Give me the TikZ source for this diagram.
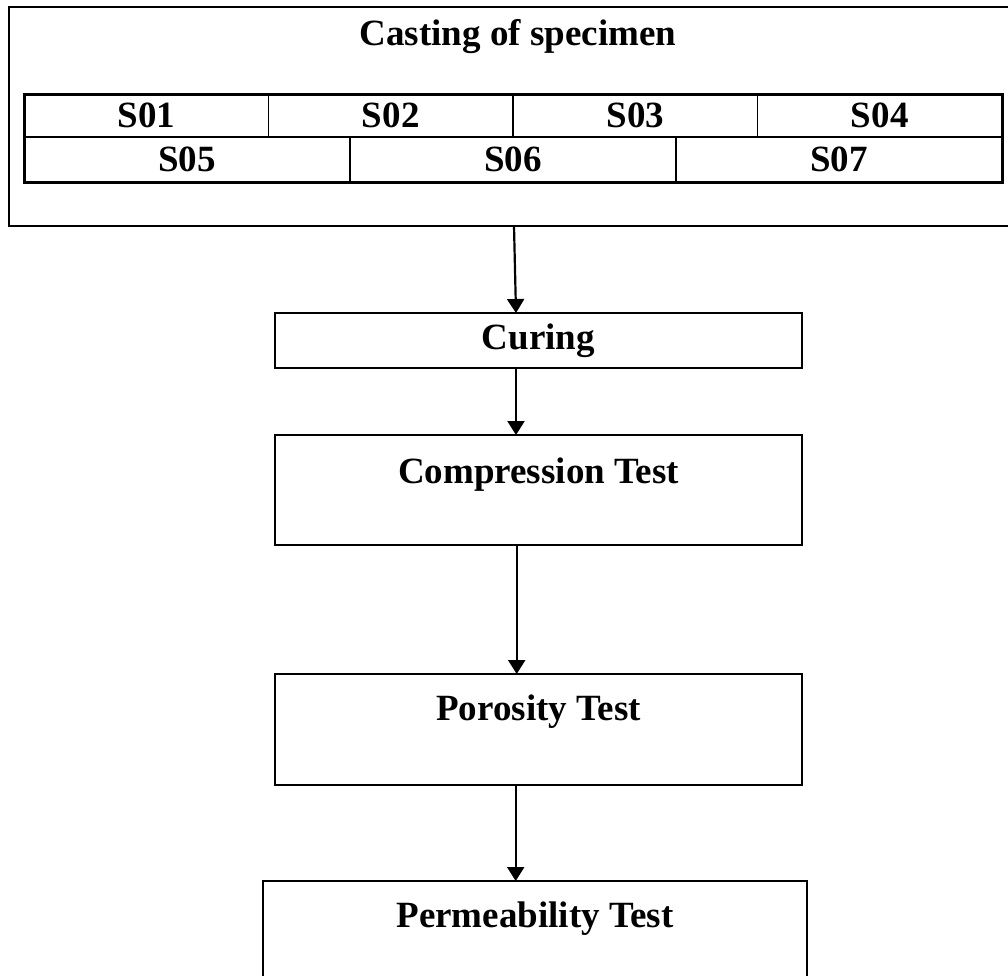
\documentclass[tikz,border=0pt]{standalone}
\usepackage{fontspec}
\setmainfont{Liberation Serif}
\usetikzlibrary{arrows.meta}
\begin{document}
\begin{tikzpicture}[x=1pt,y=-1pt,
  box/.style={draw, line width=2.8pt, inner sep=0pt, outer sep=0pt, rectangle},
  cell/.style={draw, line width=1.8pt, inner sep=0pt, outer sep=0pt, rectangle,
    font=\fontsize{37}{40}\selectfont\bfseries},
  txt/.style={font=\fontsize{37}{40}\selectfont\bfseries, inner sep=0pt, anchor=base},
  flow/.style={line width=2.2pt, -{Triangle[width=17pt,length=14pt]}}]
\useasboundingbox (0,0) rectangle (1008,975);
% outer box
\node[box, minimum width=1006pt, minimum height=219pt] (casting) at (512,116.5) {};
\node[txt] (title) at (518,45) {Casting of specimen};
% table row 1
\node[cell, minimum width=244.5pt, minimum height=43pt] (c1) at (146.25,115.5) {S01};
\node[cell, minimum width=244.5pt, minimum height=43pt] (c2) at (390.75,115.5) {S02};
\node[cell, minimum width=244.5pt, minimum height=43pt] (c3) at (635.25,115.5) {S03};
\node[cell, minimum width=244.5pt, minimum height=43pt] (c4) at (879.75,115.5) {S04};
% table row 2
\node[cell, minimum width=326pt, minimum height=45pt] (c5) at (187,159.5) {S05};
\node[cell, minimum width=326pt, minimum height=45pt] (c6) at (513,159.5) {S06};
\node[cell, minimum width=326pt, minimum height=45pt] (c7) at (839,159.5) {S07};
\draw[line width=3pt] (c1.north west) rectangle (c7.south east);
% process boxes
\node[box, minimum width=527pt, minimum height=55pt] (curing) at (538.5,340.5) {};
\node[txt] (curingt) at ([yshift=-36pt]curing.north) {Curing};
\node[box, minimum width=527pt, minimum height=110pt] (comp) at (538.5,490) {};
\node[txt] (compt) at ([yshift=-48pt]comp.north) {Compression Test};
\node[box, minimum width=527pt, minimum height=111pt] (poro) at (538.5,729.5) {};
\node[txt] (porot) at ([yshift=-46pt]poro.north) {Porosity Test};
\node[box, line width=2.4pt, minimum width=544pt, minimum height=130pt] (perm) at (535,946) {};
\node[txt] (permt) at ([yshift=-46pt]perm.north) {Permeability Test};
% connectors
\draw[flow] ([xshift=2pt]casting.south) -- ([xshift=-22.5pt]curing.north);
\draw[flow] ([xshift=-22.5pt]curing.south) -- ([xshift=-22.5pt]comp.north);
\draw[flow] ([xshift=-21.8pt]comp.south) -- ([xshift=-21.8pt]poro.north);
\draw[flow] ([xshift=-22.8pt]poro.south) -- ([xshift=-19.3pt]perm.north);
\end{tikzpicture}
\end{document}
